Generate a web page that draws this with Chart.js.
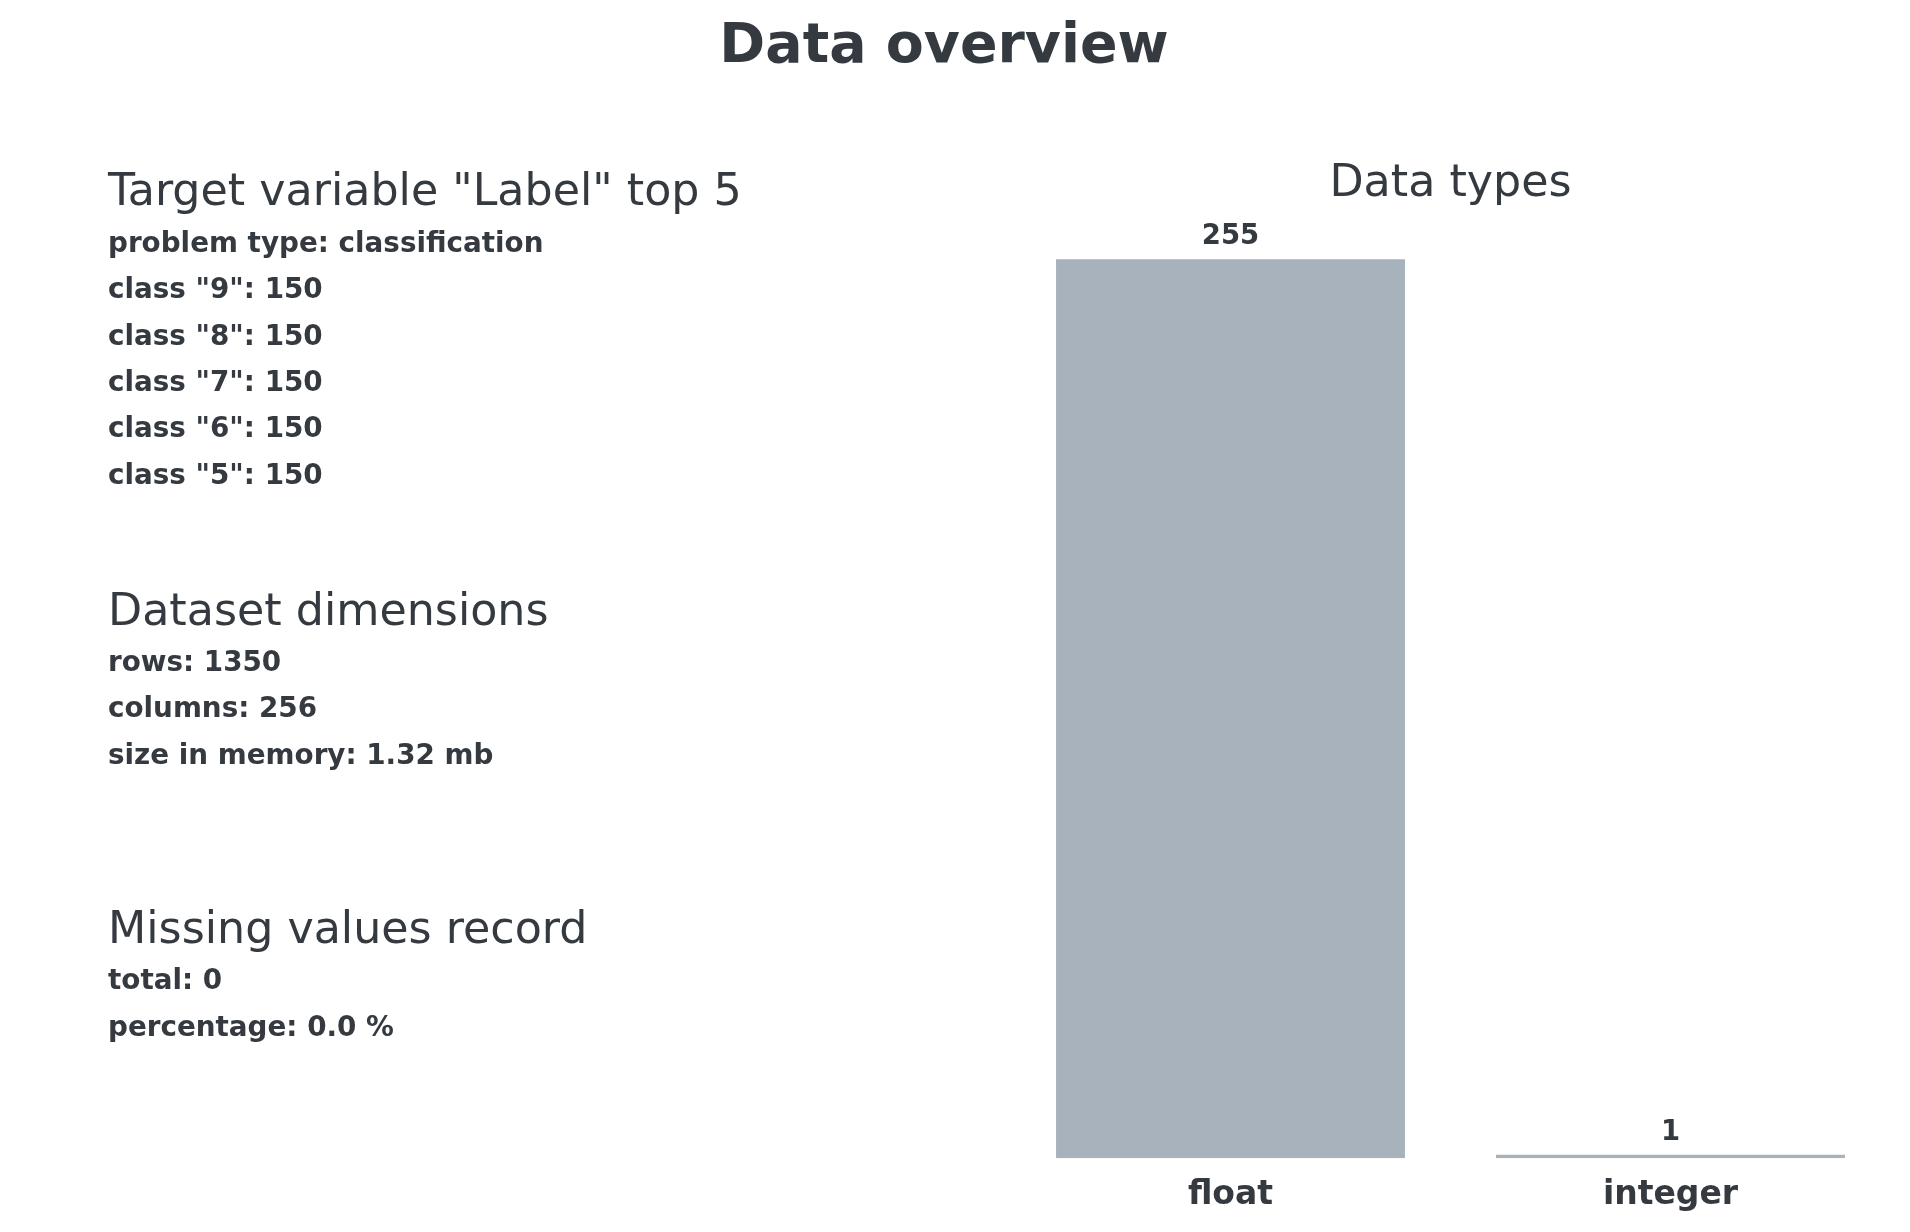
<!DOCTYPE html>
<html>
<head>
<meta charset="utf-8">
<script src="https://cdn.jsdelivr.net/npm/chart.js@4.4.1/dist/chart.umd.min.js"></script>
<style>
  html, body { margin: 0; padding: 0; background: #ffffff; }
  body { width: 1910px; height: 1232px; position: relative; overflow: hidden;
         font-family: "DejaVu Sans", sans-serif; color: #343a40; }
  #wrap { position: absolute; left: 0; top: 0; width: 1910px; height: 1232px; }
  .t { position: absolute; white-space: nowrap; line-height: 1; }
  .main { font-size: 55.4px; font-weight: bold; left: 0; width: 1888px; text-align: center; }
  .head { font-size: 44.35px; font-weight: normal; left: 108px; }
  .line { font-size: 27.8px; font-weight: bold; left: 108px; }
</style>
</head>
<body>
<div id="wrap"><canvas id="c" width="1910" height="1232"></canvas></div>
<div id="texts"></div>
<script>
// ---- data ----
const pageTitle = "Data overview";
const chartTitle = "Data types";
const typeLabels = ["float", "integer"];
const typeCounts = [255, 1];

const targetHeading = 'Target variable "Label" top 5';
const problemType = "classification";
const classNames = ["9", "8", "7", "6", "5"];
const classCounts = [150, 150, 150, 150, 150];

const dimHeading = "Dataset dimensions";
const dimRows = 1350;
const dimColumns = 256;
const dimMemory = "1.32 mb";

const missHeading = "Missing values record";
const missTotal = 0;
const missPercent = "0.0 %";

const textColor = "#343a40";
const barColor = "#a7b2bc";

// ---- left panel text (real DOM text), positioned by baseline ----
const texts = document.getElementById("texts");
function addText(cls, str, baseline, size) {
  const d = document.createElement("div");
  d.className = "t " + cls;
  d.textContent = str;
  d.style.top = (baseline - 0.846 * size) + "px";
  texts.appendChild(d);
}
addText("main", pageTitle, 63, 55.4);

const step = 46.4;
let b = 206;
addText("head", targetHeading, b, 44.35);
b += step; addText("line", "problem type: " + problemType, b, 27.8);
classNames.forEach((c, i) => { b += step; addText("line", 'class "' + c + '": ' + classCounts[i], b, 27.8); });

b = 626;
addText("head", dimHeading, b, 44.35);
b += 45.5; addText("line", "rows: " + dimRows, b, 27.8);
b += step; addText("line", "columns: " + dimColumns, b, 27.8);
b += step; addText("line", "size in memory: " + dimMemory, b, 27.8);

b = 944;
addText("head", missHeading, b, 44.35);
b += 46; addText("line", "total: " + missTotal, b, 27.8);
b += step; addText("line", "percentage: " + missPercent, b, 27.8);

// ---- value labels plugin ----
const valueLabels = {
  id: "valueLabels",
  afterDatasetsDraw(chart) {
    const ctx = chart.ctx;
    ctx.save();
    ctx.font = "bold 27.5px 'DejaVu Sans'";
    ctx.fillStyle = textColor;
    ctx.textAlign = "center";
    ctx.textBaseline = "alphabetic";
    chart.getDatasetMeta(0).data.forEach((bar, i) => {
      ctx.fillText(String(chart.data.datasets[0].data[i]), bar.x, bar.y - 15);
    });
    ctx.restore();
  }
};

new Chart(document.getElementById("c"), {
  type: "bar",
  data: {
    labels: typeLabels,
    datasets: [{
      data: typeCounts,
      backgroundColor: barColor,
      borderWidth: 0,
      barPercentage: 0.793,
      categoryPercentage: 1
    }]
  },
  options: {
    responsive: false,
    animation: false,
    devicePixelRatio: 1,
    layout: { padding: { left: 1010.5, right: 19.5, top: 157.6, bottom: 0 } },
    plugins: {
      legend: { display: false },
      tooltip: { enabled: false },
      title: {
        display: true,
        text: chartTitle,
        fullSize: false,
        color: textColor,
        font: { family: "DejaVu Sans", size: 44.35, weight: "normal", lineHeight: 1.2 },
        padding: { top: 0, bottom: 3.4 }
      }
    },
    scales: {
      x: {
        grid: { display: false, drawTicks: false },
        border: { display: false },
        ticks: {
          color: textColor,
          padding: 21.2,
          font: { family: "DejaVu Sans", size: 33, weight: "bold", lineHeight: 0.947 }
        }
      },
      y: {
        display: false,
        min: 0,
        max: Math.max(...typeCounts) * 1.05
      }
    }
  },
  plugins: [valueLabels]
});
</script>
</body>
</html>
